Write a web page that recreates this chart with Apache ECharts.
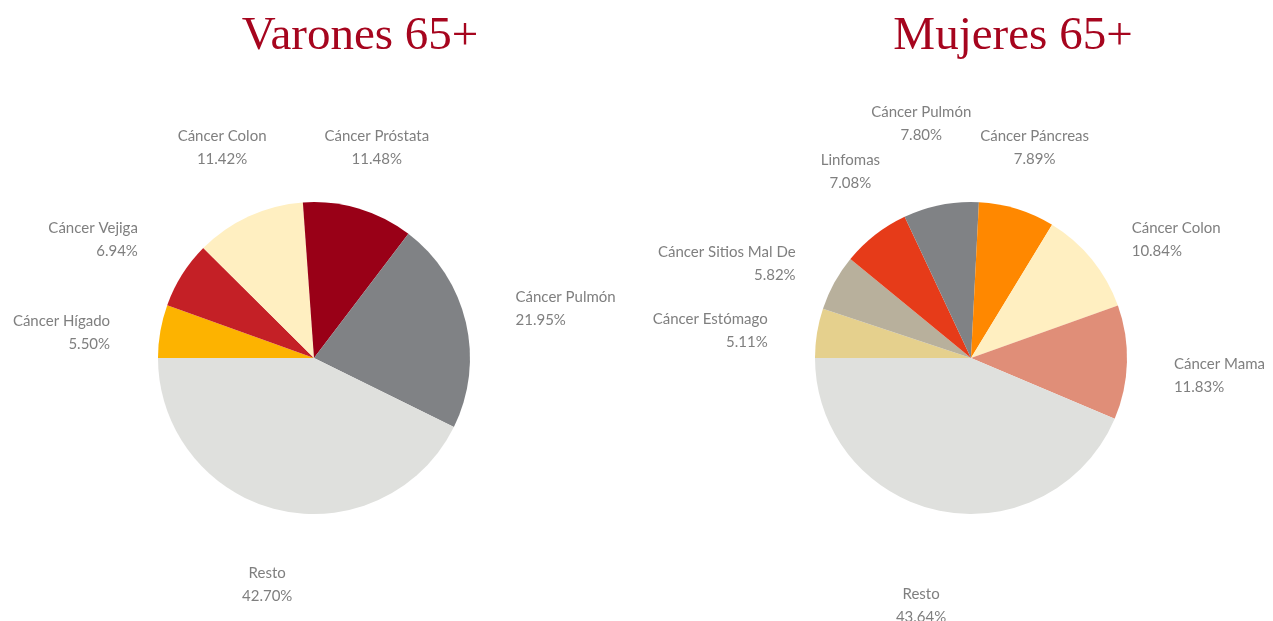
<!DOCTYPE html>
<html>
<head>
<meta charset="utf-8">
<script src="https://cdn.jsdelivr.net/npm/echarts@6/dist/echarts.min.js"></script>
<style>
html,body{margin:0;padding:0;background:#fff;}
#chart{width:1273px;height:621px;}
</style>
</head>
<body>
<div id="chart"></div>
<script>
// ---- Data ----
const menCategories = ['Cáncer Hígado', 'Cáncer Vejiga', 'Cáncer Colon', 'Cáncer Próstata', 'Cáncer Pulmón', 'Resto'];
const menValues = [5.50, 6.94, 11.42, 11.48, 21.95, 42.70];
const menColors = ['#FDB300', '#C42026', '#FFEFC1', '#990017', '#808285', '#DFE0DD'];

const womenCategories = ['Cáncer Estómago', 'Cáncer Sitios Mal De', 'Linfomas', 'Cáncer Pulmón', 'Cáncer Páncreas', 'Cáncer Colon', 'Cáncer Mama', 'Resto'];
const womenValues = [5.11, 5.82, 7.08, 7.80, 7.89, 10.84, 11.83, 43.64];
const womenColors = ['#E5D08D', '#B8B09C', '#E63B19', '#808285', '#FF8800', '#FFEFC1', '#E08E78', '#DFE0DD'];

const titles = ['Varones 65+', 'Mujeres 65+'];

// ---- Layout (styling only) ----
const pies = [
  {center: [314, 358], radius: 156, cats: menCategories, vals: menValues, colors: menColors,
   nudge: [[-1, 10], [-2, -8], [-6, 0], [4, 10], [1, -2], [0, 3]]},
  {center: [971, 358], radius: 156, cats: womenCategories, vals: womenValues, colors: womenColors,
   nudge: [[0, 6], [5, 5], [6, -1], [-10, -9], [3, 10], [1, 12], [-3, 12], [-9, 23]]}
];
const START = 180;
const LABEL_GAP = 50;

function midAngle(vals, idx) {
  const total = vals.reduce((a, b) => a + b, 0);
  let cum = 0;
  for (let i = 0; i < idx; i++) cum += vals[i];
  const mid = cum + vals[idx] / 2;
  return (START - mid / total * 360) * Math.PI / 180;
}

function labelLayout(params) {
  const p = pies[params.seriesIndex];
  const a = midAngle(p.vals, params.dataIndex);
  const c = Math.cos(a), s = Math.sin(a);
  const d = p.radius + LABEL_GAP;
  const n = p.nudge[params.dataIndex] || [0, 0];
  const x = p.center[0] + d * c + n[0];
  const y = p.center[1] - d * s + n[1];
  let align, vAlign;
  if (Math.abs(c) < 0.7) {
    align = 'center';
    vAlign = s > 0 ? 'bottom' : 'top';
  } else {
    align = c < 0 ? 'right' : 'left';
    vAlign = 'middle';
  }
  return {x: x, y: y, align: align, verticalAlign: vAlign};
}

const chart = echarts.init(document.getElementById('chart'), null, {renderer: 'canvas'});

const titleStyle = {fontFamily: 'Liberation Serif', fontSize: 47, fontWeight: 'normal', color: '#A6051E'};
const option = {
  backgroundColor: '#ffffff',
  animation: false,
  title: [
    {text: titles[0], left: 355, top: 8, textAlign: 'center', textStyle: titleStyle},
    {text: titles[1], left: 1008, top: 8, textAlign: 'center', textStyle: titleStyle}
  ],
  series: pies.map(function (p) {
    return {
      type: 'pie',
      center: p.center,
      radius: p.radius,
      startAngle: START,
      clockwise: true,
      avoidLabelOverlap: false,
      silent: true,
      itemStyle: {borderWidth: 0},
      label: {
        show: true,
        position: 'outside',
        fontFamily: 'Lato',
        fontSize: 15,
        lineHeight: 23,
        color: '#7F7F7F',
        formatter: function (d) { return d.name + '\n' + d.value.toFixed(2) + '%'; }
      },
      labelLine: {show: false},
      labelLayout: labelLayout,
      data: p.cats.map(function (n, i) {
        return {name: n, value: p.vals[i], itemStyle: {color: p.colors[i]}};
      })
    };
  })
};
chart.setOption(option);
</script>
</body>
</html>
